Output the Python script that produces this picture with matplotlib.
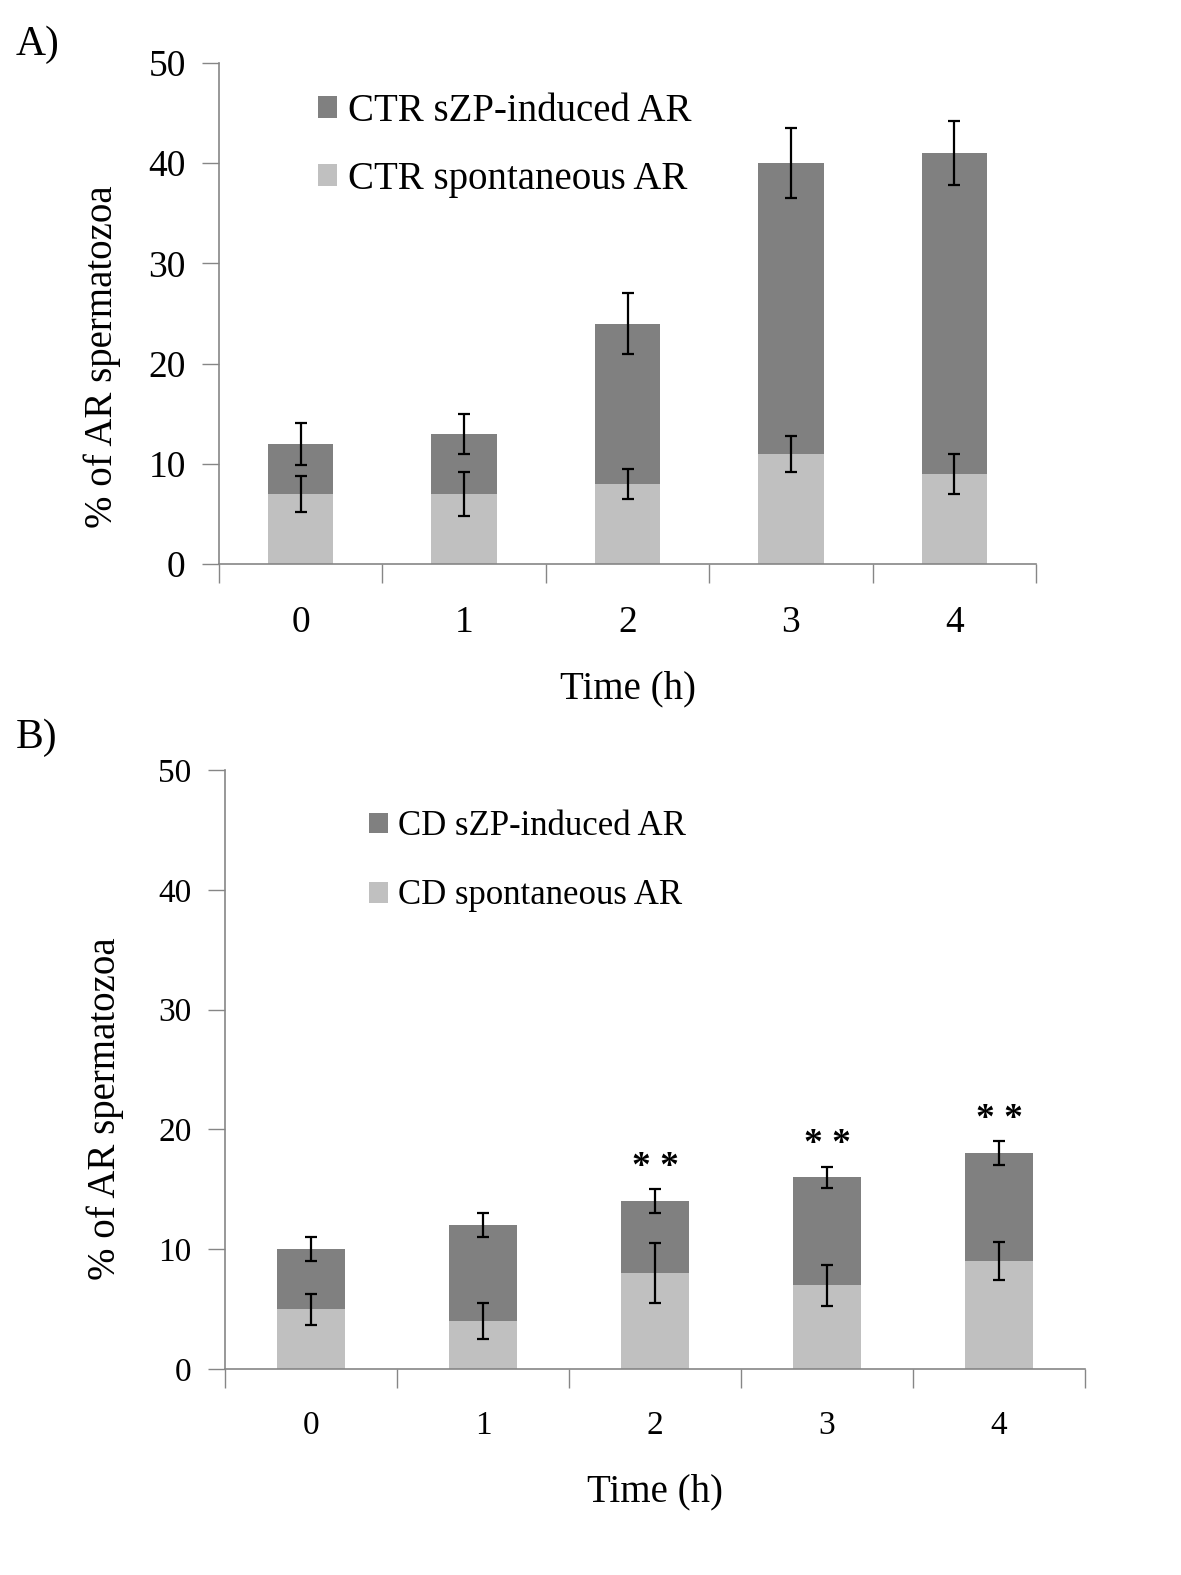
import numpy as np
import matplotlib.pyplot as plt
from matplotlib.patches import Patch

plt.rcParams['font.family'] = ['Liberation Serif', 'DejaVu Serif']

times = ['0', '1', '2', '3', '4']

# panel A: control
ctr_total = [12, 13, 24, 40, 41]
ctr_total_err = [2.1, 2.0, 3.0, 3.5, 3.2]
ctr_spont = [7, 7, 8, 11, 9]
ctr_spont_err = [1.8, 2.2, 1.5, 1.8, 2.0]

# panel B: CD
cd_total = [10, 12, 14, 16, 18]
cd_total_err = [1.0, 1.0, 1.0, 0.9, 1.0]
cd_spont = [5, 4, 8, 7, 9]
cd_spont_err = [1.3, 1.5, 2.5, 1.7, 1.6]
cd_stars = ['', '', '* *', '* *', '* *']

dark = '#808080'
light = '#c0c0c0'
axcol = '#868686'

W, H = 1181, 1575
fig = plt.figure(figsize=(W/100, H/100), dpi=100)

def px_axes(l, t, r, b):
    return fig.add_axes([l/W, 1-b/H, (r-l)/W, (b-t)/H])

def panel(ax, total, terr, spont, serr, labels, tickfs, legfs, legpos, legsp,
          handle, ylab_pos, xlabpad):
    x = np.arange(len(times))
    induced = np.array(total) - np.array(spont)
    ax.bar(x, spont, width=0.4, color=light, zorder=2)
    ax.bar(x, induced, bottom=spont, width=0.4, color=dark, zorder=2)
    ax.errorbar(x, spont, yerr=serr, fmt='none', ecolor='black', elinewidth=1.6,
                capsize=4, capthick=1.6, zorder=3)
    ax.errorbar(x, total, yerr=terr, fmt='none', ecolor='black', elinewidth=1.6,
                capsize=4, capthick=1.6, zorder=3)
    ax.set_xlim(-0.5, len(times)-0.5)
    ax.set_ylim(0, 50)
    ax.set_yticks(range(0, 51, 10))
    ax.set_xticks(x)
    ax.set_xticklabels(times)
    ax.set_xticks(np.arange(-0.5, len(times)), minor=True)
    ax.tick_params(axis='x', which='major', length=0, pad=30, labelsize=tickfs)
    ax.tick_params(axis='x', which='minor', length=14, direction='out', color=axcol, width=1)
    ax.tick_params(axis='y', length=12, direction='out', color=axcol, width=1,
                   labelsize=tickfs, pad=12)
    for s in ['top', 'right']:
        ax.spines[s].set_visible(False)
    for s in ['left', 'bottom']:
        ax.spines[s].set_color(axcol)
        ax.spines[s].set_linewidth(1.2)
    ax.set_xlabel('Time (h)', fontsize=28, labelpad=xlabpad)
    ax.set_ylabel('% of AR spermatozoa', fontsize=28)
    ax.yaxis.set_label_coords(*ylab_pos)
    handles = [Patch(facecolor=dark, label=labels[0]), Patch(facecolor=light, label=labels[1])]
    ax.legend(handles=handles, loc='upper left', bbox_to_anchor=legpos, frameon=False,
              fontsize=legfs, handlelength=handle, handleheight=handle, handletextpad=0.28,
              labelspacing=legsp, borderaxespad=0)

axA = px_axes(219, 63, 1036, 564)
panel(axA, ctr_total, ctr_total_err, ctr_spont, ctr_spont_err,
      ['CTR sZP-induced AR', 'CTR spontaneous AR'], 27, 28, (0.102, 0.972), 0.8,
      0.5, (-0.12, 0.414), 22)

axB = px_axes(225, 770, 1085, 1369)
panel(axB, cd_total, cd_total_err, cd_spont, cd_spont_err,
      ['CD sZP-induced AR', 'CD spontaneous AR'], 24, 25, (0.151, 0.956), 1.04,
      0.55, (-0.118, 0.435), 23)
for i, s in enumerate(cd_stars):
    if s:
        axB.text(i, cd_total[i] + cd_total_err[i] + 1.8, s, ha='center', va='center',
                 fontsize=27, fontweight='bold')

fig.text(16/W, 1-45/H, 'A)', fontsize=30, va='center', ha='left')
fig.text(16/W, 1-738/H, 'B)', fontsize=30, va='center', ha='left')

fig.savefig('out.png', dpi=100, facecolor='white')
